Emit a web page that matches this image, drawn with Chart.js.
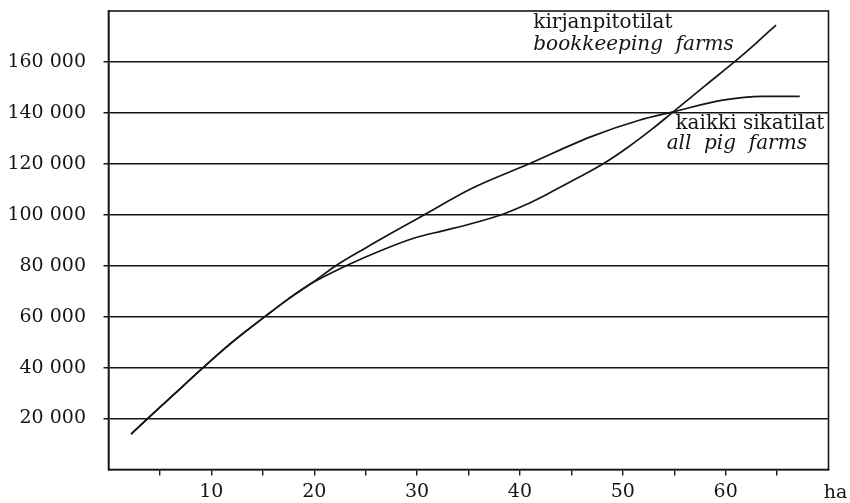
<!DOCTYPE html>
<html>
<head>
<meta charset="utf-8">
<script src="https://cdn.jsdelivr.net/npm/chart.js@4/dist/chart.umd.min.js"></script>
<style>
  html, body { margin: 0; padding: 0; background: #fff; }
  #wrap { width: 850px; height: 503px; }
</style>
</head>
<body>
<div id="wrap"><canvas id="c" width="850" height="503"></canvas></div>
<script>
// ---- data (x = farm size in ha, y = value) ----
const bookkeepingHa = [2.2, 3.8, 6.5, 9.2, 12, 15.2, 17.5, 19.7, 23.1, 26.5, 29.6, 32.5, 35, 38.2, 40.5, 42.6, 45.5, 48.1, 50.5, 52.9, 54.9, 58.1, 61, 63, 64.9];
const bookkeepingValues = [13900, 20000, 30000, 40000, 50000, 60000, 67000, 73000, 80000, 86000, 90700, 93700, 96200, 100000, 103800, 108000, 114200, 120000, 126500, 133800, 140400, 151000, 160500, 167500, 174500];

const allPigHa = [2.2, 3.8, 6.5, 9.2, 12, 15.2, 17.5, 19.7, 22.1, 25, 28.3, 30.7, 35.3, 40.9, 46.8, 51.6, 54.9, 59.7, 63.6, 67.2];
const allPigValues = [13900, 20000, 30000, 40000, 49800, 60000, 67000, 73000, 80000, 87000, 94600, 100000, 110300, 120000, 130500, 137100, 140400, 145000, 146500, 146500];

const xLabelTicks = [10, 20, 30, 40, 50, 60];
const yLabelTicks = [20000, 40000, 60000, 80000, 100000, 120000, 140000, 160000];
const xUnit = 'ha';

const bookkeepingLabel = ['kirjanpitotilat', 'bookkeeping  farms'];
const allPigLabel = ['kaikki sikatilat', 'all  pig  farms'];

// ---- helpers ----
const toPoints = (xs, ys) => xs.map((x, i) => ({ x: x, y: ys[i] }));
const fmt = v => String(v).replace(/\B(?=(\d{3})+(?!\d))/g, ' ');
const INK = '#151515';
const FONT = "'DejaVu Serif', serif";

const framePlugin = {
  id: 'frame',
  afterDraw(chart) {
    const { ctx, chartArea: a } = chart;
    ctx.save();
    ctx.strokeStyle = INK;
    ctx.lineWidth = 1.6;
    ctx.strokeRect(a.left, a.top, a.right - a.left, a.bottom - a.top);
    // unit label on the x axis
    ctx.fillStyle = INK;
    ctx.font = '19px ' + FONT;
    ctx.textAlign = 'center';
    ctx.textBaseline = 'alphabetic';
    ctx.fillText(xUnit, a.right + 7, 498);
    // curve labels
    const xs = chart.scales.x, ys = chart.scales.y;
    ctx.textAlign = 'left';
    ctx.font = '20px ' + FONT;
    ctx.fillText(bookkeepingLabel[0], xs.getPixelForValue(41.3), ys.getPixelForValue(173300));
    ctx.font = 'italic 20px ' + FONT;
    ctx.fillText(bookkeepingLabel[1], xs.getPixelForValue(41.3), ys.getPixelForValue(164500));
    ctx.textAlign = 'right';
    ctx.font = '20px ' + FONT;
    ctx.fillText(allPigLabel[0], xs.getPixelForValue(69.6), ys.getPixelForValue(133800));
    ctx.font = 'italic 20px ' + FONT;
    ctx.fillText(allPigLabel[1], xs.getPixelForValue(67.9), ys.getPixelForValue(126000));
    ctx.restore();
  }
};

new Chart(document.getElementById('c'), {
  type: 'line',
  data: {
    datasets: [
      {
        label: 'kirjanpitotilat / bookkeeping farms',
        data: toPoints(bookkeepingHa, bookkeepingValues),
        borderColor: INK, borderWidth: 1.7, pointRadius: 0, fill: false,
        cubicInterpolationMode: 'monotone'
      },
      {
        label: 'kaikki sikatilat / all pig farms',
        data: toPoints(allPigHa, allPigValues),
        borderColor: INK, borderWidth: 1.7, pointRadius: 0, fill: false,
        cubicInterpolationMode: 'monotone'
      }
    ]
  },
  options: {
    responsive: false,
    animation: false,
    devicePixelRatio: 1,
    layout: { padding: { top: 11, right: 21.5, left: 0, bottom: 0 } },
    plugins: { legend: { display: false }, tooltip: { enabled: false } },
    scales: {
      x: {
        type: 'linear', min: 0, max: 70,
        afterBuildTicks: s => { s.ticks = s.ticks.filter(t => t.value > 0 && t.value < 70); },
        afterFit: s => { s.height = 33.5; s.paddingLeft = 0; s.paddingRight = 0; },
        ticks: {
          stepSize: 5, autoSkip: false, maxRotation: 0, padding: 5,
          color: INK, font: { family: FONT, size: 19 },
          callback: v => (xLabelTicks.includes(v) ? String(v) : '')
        },
        grid: { drawOnChartArea: false, drawTicks: true, tickLength: 6, color: INK, lineWidth: 1.4 },
        border: { display: true, color: INK, width: 1.6 }
      },
      y: {
        type: 'linear', min: 0, max: 180000,
        afterBuildTicks: s => { s.ticks = s.ticks.filter(t => yLabelTicks.includes(t.value)); },
        afterFit: s => { s.width = 108.5; s.paddingTop = 0; s.paddingBottom = 0; },
        ticks: {
          stepSize: 20000, autoSkip: false, padding: 17.5,
          color: INK, font: { family: FONT, size: 19 },
          callback: v => fmt(v)
        },
        grid: { drawOnChartArea: true, drawTicks: true, tickLength: 5, color: INK, lineWidth: 1.5 },
        border: { display: true, color: INK, width: 1.6 }
      }
    }
  },
  plugins: [framePlugin]
});
</script>
</body>
</html>
